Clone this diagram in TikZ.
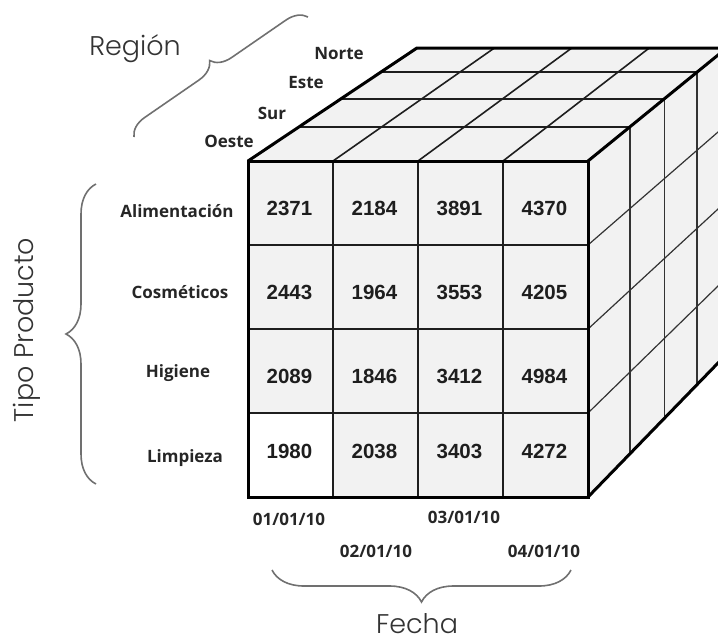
\documentclass[tikz,border=0pt]{standalone}
\usepackage{fontspec}
\usetikzlibrary{calc,decorations.pathreplacing}
\newfontfamily\titlefont{Poppins}[UprightFont=* Light]
\newfontfamily\labelfont{Open Sans}
\newfontfamily\numfont{Liberation Sans}
\definecolor{ink}{HTML}{1E1E1E}
\definecolor{labelink}{HTML}{262626}
\definecolor{bracegray}{HTML}{707070}
\definecolor{face}{HTML}{F2F2F2}
\definecolor{titleink}{HTML}{333333}

\tikzset{
  edgeline/.style={line width=3pt, black, line join=miter},
  gridline/.style={line width=1.6pt, ink},
  sideline/.style={line width=1.2pt, black!80},
  bracestyle/.style={line width=1.6pt, bracegray, decorate},
  dimlabel/.style={font=\labelfont\bfseries\fontsize{17}{20}\selectfont, text=labelink, anchor=base, inner sep=0pt},
  cellvalue/.style={font=\numfont\bfseries\fontsize{20.5}{23}\selectfont, text=ink, anchor=base, inner sep=0pt},
  axistitle/.style={font=\titlefont\fontsize{27}{30}\selectfont, text=titleink, anchor=base, inner sep=0pt}
}

\begin{document}
\begin{tikzpicture}[x=1pt,y=-1pt]
\useasboundingbox (0,0) rectangle (718,641);
\clip (0,0) rectangle (718,641);

% vanishing point of the receding edges
\coordinate (vp) at (2145,-1108);

% front face corners
\coordinate (A) at (248,161);
\coordinate (B) at (588,161);
\coordinate (C) at (588,497);
\coordinate (D) at (248,497);

% column and row division points on the front face
\foreach \x [count=\i] in {333,418,503}{
  \coordinate (t\i) at (\x,161);
  \coordinate (b\i) at (\x,497);
}
\foreach \y [count=\i] in {245,329,413}{
  \coordinate (l\i) at (248,\y);
  \coordinate (r\i) at (588,\y);
}

% depth slices (scaled towards the vanishing point)
\foreach \k [count=\n] in {0.973,0.951,0.930,0.911}{
  \coordinate (A\n) at ($(vp)!\k!(A)$);
  \coordinate (B\n) at ($(vp)!\k!(B)$);
  \coordinate (C\n) at ($(vp)!\k!(C)$);
}
\foreach \i in {1,2,3}{
  \coordinate (tb\i) at ($(vp)!0.911!(t\i)$);
  \coordinate (rb\i) at ($(vp)!0.911!(r\i)$);
}

% faces
\fill[face] (A) -- (B) -- (B4) -- (A4) -- cycle;
\fill[face] (B) -- (C) -- (C4) -- (B4) -- cycle;
\fill[face] (A) rectangle (C);
\fill[white] (l3) rectangle (b1);

% top face grid
\foreach \n in {1,2,3}{
  \draw[gridline] (A\n) -- (B\n);
  \draw[gridline] (t\n) -- (tb\n);
}
% right face grid
\foreach \n in {1,2,3}{
  \draw[sideline] (B\n) -- (C\n);
  \draw[sideline] (r\n) -- (rb\n);
}
% front face grid
\foreach \n in {1,2,3}{
  \draw[gridline] (t\n) -- (b\n);
  \draw[gridline] (l\n) -- (r\n);
}

% cube outline
\draw[edgeline] (A) rectangle (C);
\draw[edgeline] (A) -- (A4) -- (B4) -- (B);
\draw[edgeline] (B4) -- (C4) -- (C);

% cell values
\foreach \row [count=\r] in {{2371,2184,3891,4370},{2443,1964,3553,4205},{2089,1846,3412,4984},{1980,2038,3403,4272}}{
  \foreach \v [count=\c] in \row{
    \pgfmathsetmacro{\cx}{205+85*\c-0.5}
    \pgfmathsetmacro{\cy}{{215,299,383,458}[\r-1]}
    \node[cellvalue] (v\r\c) at (\cx,\cy) {\v};
  }
}

% region labels
\node[dimlabel] (norte) at (339,59) {Norte};
\node[dimlabel] (este) at (306,88) {Este};
\node[dimlabel] (sur) at (272,119) {Sur};
\node[dimlabel] (oeste) at (229,147) {Oeste};

% product labels
\node[dimlabel] (alim) at (177,217) {Alimentación};
\node[dimlabel] (cosm) at (180,298) {Cosméticos};
\node[dimlabel] (hig) at (178,377) {Higiene};
\node[dimlabel] (limp) at (185,462) {Limpieza};

% date labels
\node[dimlabel] (d1) at (289,525) {01/01/10};
\node[dimlabel] (d3) at (464,523) {03/01/10};
\node[dimlabel] (d2) at (376,557) {02/01/10};
\node[dimlabel] (d4) at (544,557) {04/01/10};

% axis titles
\node[axistitle] (region) at (135,55) {Región};
\node[axistitle, rotate=90] (tipo) at (33,330) {Tipo Producto};
\node[axistitle] (fecha) at (417,633) {Fecha};

% braces
\coordinate (rg1) at (134,137);
\coordinate (rg2) at (308,17);
\coordinate (tp1) at (96,484);
\coordinate (tp2) at (96,184);
\coordinate (fc1) at (571,570);
\coordinate (fc2) at (272,570);
\draw[bracestyle, decoration={brace,amplitude=20pt}] (rg1) -- (rg2);
\draw[bracestyle, decoration={brace,amplitude=30pt}] (tp1) -- (tp2);
\draw[bracestyle, decoration={brace,amplitude=32pt}] (fc1) -- (fc2);
\end{tikzpicture}
\end{document}
